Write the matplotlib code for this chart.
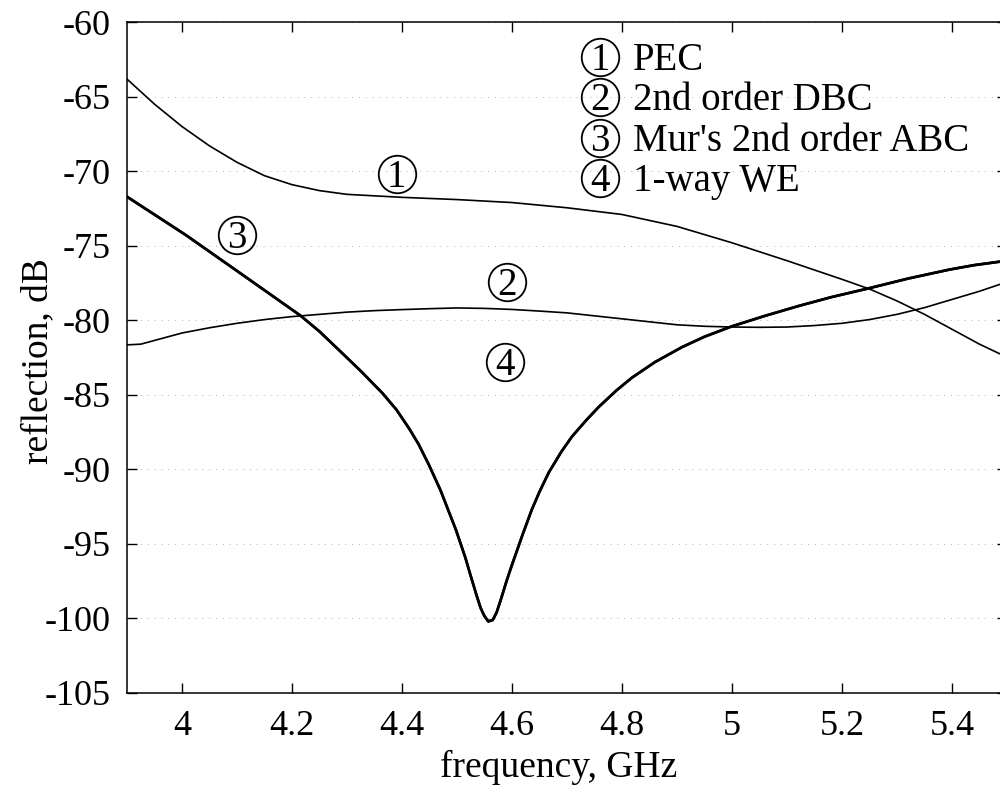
import matplotlib.pyplot as plt
import numpy as np

plt.rcParams['font.family'] = ['Liberation Serif', 'DejaVu Serif']
plt.rcParams['axes.unicode_minus'] = False

# (1) PEC
f_pec = [3.898, 3.95, 4.0, 4.05, 4.1, 4.15, 4.2, 4.25, 4.3, 4.4, 4.5, 4.6, 4.7, 4.8, 4.9,
         5.0, 5.1, 5.2, 5.25, 5.3, 5.35, 5.4, 5.45, 5.49]
r_pec = [-63.75, -65.5, -67.0, -68.3, -69.4, -70.3, -70.9, -71.3, -71.55, -71.75, -71.9, -72.1, -72.45, -72.9, -73.7,
         -74.8, -76.0, -77.25, -77.9, -78.7, -79.6, -80.6, -81.6, -82.3]

# (2) 2nd order DBC
f_dbc = [3.898, 3.925, 3.96, 4.0, 4.05, 4.1, 4.15, 4.2, 4.25, 4.3, 4.35, 4.4, 4.45, 4.5, 4.55, 4.6,
         4.65, 4.7, 4.75, 4.8, 4.85, 4.9, 4.95, 5.0, 5.05, 5.1, 5.15, 5.2, 5.25, 5.3, 5.35, 5.4, 5.45, 5.49]
r_dbc = [-81.65, -81.6, -81.25, -80.85, -80.5, -80.2, -79.95, -79.75, -79.6, -79.45, -79.35, -79.28, -79.22, -79.17,
         -79.2, -79.27, -79.38, -79.5, -79.7, -79.9, -80.1, -80.3, -80.4, -80.45, -80.47, -80.45, -80.35, -80.2,
         -79.95, -79.6, -79.15, -78.6, -78.05, -77.55]

# (3) Mur's 2nd order ABC and (4) 1-way WE lie on top of each other
f_abc = [3.898, 4.007, 4.116, 4.216, 4.25, 4.285, 4.325, 4.364, 4.39, 4.413, 4.43, 4.449, 4.47, 4.498, 4.515,
         4.527, 4.536, 4.543, 4.55, 4.557, 4.565, 4.572, 4.58, 4.59, 4.60, 4.62, 4.636, 4.65, 4.667, 4.69,
         4.709, 4.735, 4.758, 4.79, 4.818, 4.86, 4.909, 4.95, 5.0, 5.06, 5.12, 5.18, 5.249, 5.32, 5.395, 5.44, 5.49]
r_abc = [-71.66, -74.28, -77.1, -79.7, -80.75, -81.98, -83.4, -84.87, -86.0, -87.26, -88.3, -89.7, -91.4, -94.05,
         -95.9, -97.4, -98.5, -99.3, -99.85, -100.2, -100.1, -99.6, -98.7, -97.5, -96.4, -94.3, -92.7, -91.5,
         -90.2, -88.8, -87.8, -86.7, -85.8, -84.7, -83.85, -82.8, -81.8, -81.1, -80.4, -79.7, -79.05, -78.45,
         -77.85, -77.2, -76.6, -76.3, -76.05]
f_we = f_abc
r_we = r_abc

names = ['PEC', '2nd order DBC', "Mur's 2nd order ABC", '1-way WE']
tags = ['1', '2', '3', '4']
# where each circled number sits next to its curve
tag_f = [4.39, 4.591, 4.10, 4.587]
tag_r = [-70.2, -77.4, -74.28, -82.8]

fig = plt.figure(figsize=(10, 7.92), dpi=100)
ax = fig.add_axes([0.127, 0.125, 0.88, 0.847])

ax.plot(f_pec, r_pec, color='black', lw=1.2)
ax.plot(f_dbc, r_dbc, color='black', lw=1.2)
ax.plot(f_abc, r_abc, color='black', lw=1.9)
ax.plot(f_we, r_we, color='black', lw=1.9)

ax.set_xlim(3.9, 5.5)
ax.set_ylim(-105, -60)
ax.set_xticks(np.arange(4.0, 5.41, 0.2))
ax.set_xticklabels(['4', '4.2', '4.4', '4.6', '4.8', '5', '5.2', '5.4'])
ax.set_yticks(np.arange(-105, -59, 5))
ax.tick_params(axis='both', direction='in', length=7, width=1, labelsize=26, top=True, right=True)
ax.tick_params(axis='x', pad=12)
ax.tick_params(axis='y', pad=12)
for s in ax.spines.values():
    s.set_linewidth(1.1)

ax.yaxis.grid(True, color='0.7', lw=0.7, linestyle=(0, (1, 6)))
ax.xaxis.grid(False)

ax.set_xlabel('frequency, GHz', fontsize=27)
ax.set_ylabel('reflection, dB', fontsize=27)
ax.xaxis.set_label_coords(0.491, -0.085)
ax.yaxis.set_label_coords(-0.082, 0.495)

fs = 28
dy = -0.338 * fs  # drop baseline so the digit sits in the middle of its ring


def circled(x, y, t, trans):
    ax.plot([x], [y], marker='o', ms=27, mfc='none', mec='black', mew=1.3,
            transform=trans, clip_on=False)
    ax.annotate(t, (x, y), xycoords=trans, xytext=(0, dy), textcoords='offset points',
                ha='center', va='baseline', fontsize=fs)


# labels on the curves
for t, x, y in zip(tags, tag_f, tag_r):
    circled(x, y, t, ax.transData)

# key in the upper right
key_y = [0.948, 0.888, 0.827, 0.768]
for t, name, y in zip(tags, names, key_y):
    circled(0.5375, y, t, ax.transAxes)
    ax.annotate(name, (0.575, y), xycoords=ax.transAxes, xytext=(0, dy), textcoords='offset points',
                ha='left', va='baseline', fontsize=fs)

fig.savefig('out.png', dpi=100)
